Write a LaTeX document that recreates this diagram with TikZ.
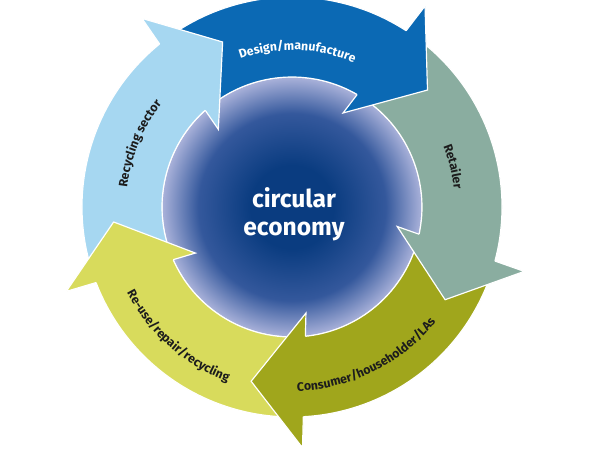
\documentclass[tikz,border=0pt]{standalone}
\usepackage{fontspec}
\setmainfont{Fira Sans}
\usetikzlibrary{calc,decorations.text}
\definecolor{Design}{HTML}{0B69B4}
\definecolor{Retail}{HTML}{8AADA0}
\definecolor{Consumer}{HTML}{A0A61C}
\definecolor{Reuse}{HTML}{D8DB5C}
\definecolor{Recycle}{HTML}{A6D7F1}
\definecolor{CoreDeep}{HTML}{0A3C80}
\definecolor{CoreMid}{HTML}{34589C}
\definecolor{CoreRim}{HTML}{AAB2DA}
\definecolor{Ink}{HTML}{1C1C1C}
\pgfdeclareradialshading{coreshade}{\pgfpoint{0bp}{0bp}}{color(0bp)=(CoreDeep); color(8bp)=(CoreDeep); color(18bp)=(CoreMid); color(25bp)=(CoreRim); color(50bp)=(CoreRim)}
\newcommand\lblfont{\fontsize{10.5}{12}\selectfont\bfseries}
\tikzset{
  core/.style={circle,minimum size=7.8cm,inner sep=0pt,shade,shading=coreshade,draw=white,line width=1pt},
  hubtext/.style={align=center,text=white,font=\fontsize{21}{24}\selectfont\bfseries},
  band/.style={draw=white,line width=1pt,line join=round},
  headline/.style={draw=white,line width=1pt,line join=miter},
  lbl/.style 2 args={decorate,decoration={text along path,text align=center,text color=#2,text={|\lblfont|#1}}}
}

\begin{document}
\begin{tikzpicture}[x=0.03cm,y=0.03cm]
  \useasboundingbox (-292,-243) rectangle (308,207);
  \node[core] (core) at (0,0) {};
  \node[hubtext] (hub) at (2,-7) {circular\\economy};
  % bands of the ring
  \foreach \k/\col in {0/Design,1/Retail,2/Consumer,3/Reuse,4/Recycle}{
    \pgfmathsetmacro\a{56.5-72*\k}
    \pgfmathsetmacro\b{\a+72}
    \filldraw[band,fill=\col] ({\b-1.5}:210) arc[start angle=\b-1.5,end angle=\a-1.5,radius=210]
      -- ({\a+2.5}:130) arc[start angle=\a+2.5,end angle=\b+2.5,radius=130] -- cycle;
  }
  % arrow heads on top
  \foreach \k/\col in {0/Design,1/Retail,2/Consumer,3/Reuse,4/Recycle}{
    \pgfmathsetmacro\a{56.5-72*\k}
    \coordinate (barbout\k) at (\a:241);
    \coordinate (barbin\k) at ({\a+5}:107);
    \coordinate (tip\k) at ({\a-15.7}:179);
    \fill[\col] (barbout\k) -- (tip\k) -- (barbin\k) -- cycle;
    \draw[headline] ($(barbout\k)!0.231!(barbin\k)$) -- (barbout\k) -- (tip\k) -- (barbin\k) -- ($(barbout\k)!0.828!(barbin\k)$);
  }
  % labels
  \path[lbl={Design/manufacture}{white}] (128:157) arc[start angle=128,end angle=48,radius=157];
  \path[lbl={Retailer}{Ink}] (54:163) arc[start angle=54,end angle=-26,radius=163];
  \path[lbl={Recycling sector}{Ink}] (197.5:166) arc[start angle=197.5,end angle=117.5,radius=166];
  \path[lbl={Consumer/householder/LAs}{Ink}] (-108.5:184) arc[start angle=-108.5,end angle=-18.5,radius=184];
  \path[lbl={Re-use/repair/recycling}{Ink}] (183.6:186) arc[start angle=183.6,end angle=273.6,radius=186];
\end{tikzpicture}
\end{document}
